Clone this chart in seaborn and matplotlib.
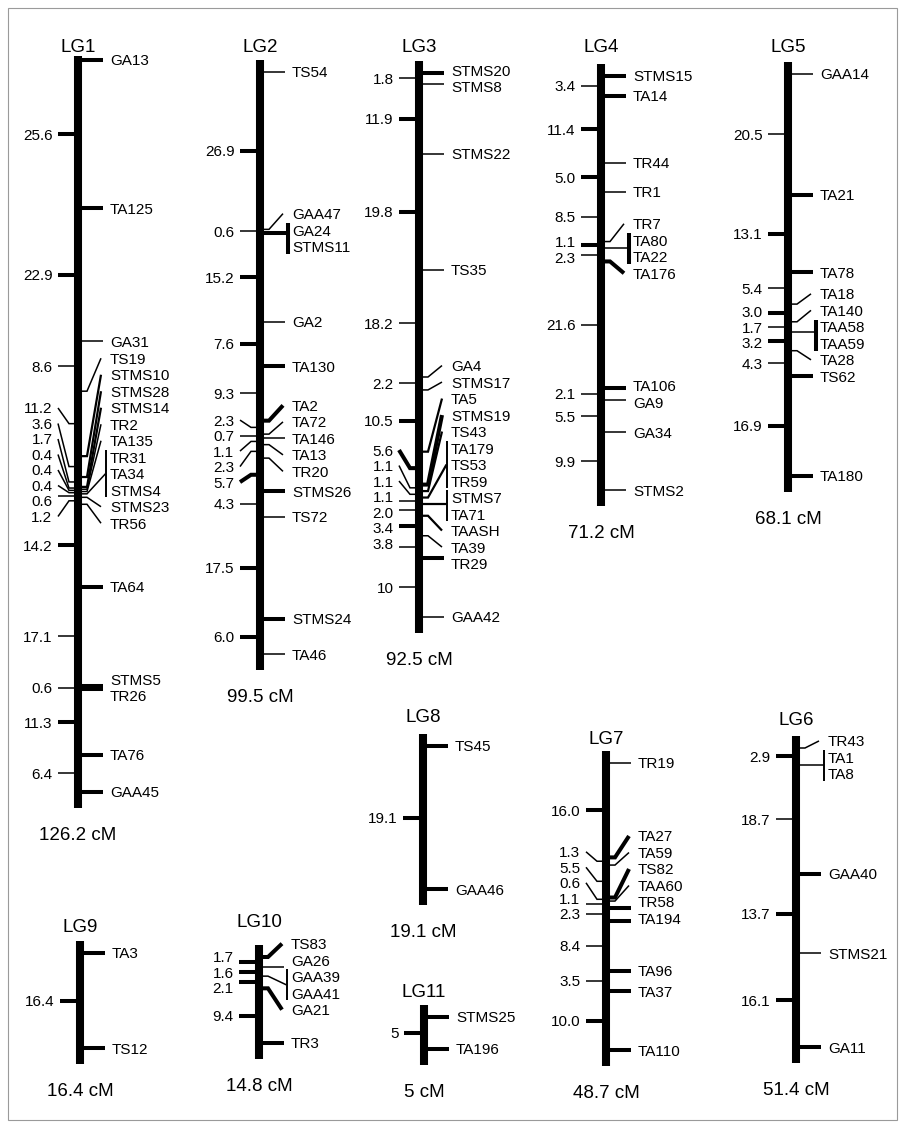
import matplotlib
matplotlib.use("Agg")
import seaborn as sns
import pandas as pd
import matplotlib.pyplot as plt
from matplotlib.patches import Rectangle

# linkage groups: loci in map order (co-segregating loci as a sub-list),
# interval distances (cM) between consecutive loci, and group totals
LG1_LOCI = ["GA13", "TA125", "GA31", "TS19", "STMS10", "STMS28", "STMS14", "TR2", "TA135",
            ["TR31", "TA34", "STMS4"], "STMS23", "TR56", "TA64", "STMS5", "TR26", "TA76", "GAA45"]
LG1_DIST = ["25.6", "22.9", "8.6", "11.2", "3.6", "1.7", "0.4", "0.4", "0.4", "0.6", "1.2",
            "14.2", "17.1", "0.6", "11.3", "6.4"]

LG2_LOCI = ["TS54", "GAA47", ["GA24", "STMS11"], "GA2", "TA130", "TA2", "TA72", "TA146", "TA13",
            "TR20", "STMS26", "TS72", "STMS24", "TA46"]
LG2_DIST = ["26.9", "0.6", "15.2", "7.6", "9.3", "2.3", "0.7", "1.1", "2.3", "5.7", "4.3", "17.5", "6.0"]

LG3_LOCI = ["STMS20", "STMS8", "STMS22", "TS35", "GA4", "STMS17", "TA5", "STMS19", "TS43",
            ["TA179", "TS53", "TR59"], ["STMS7", "TA71"], "TAASH", "TA39", "TR29", "GAA42"]
LG3_DIST = ["1.8", "11.9", "19.8", "18.2", "2.2", "10.5", "5.6", "1.1", "1.1", "1.1", "2.0", "3.4", "3.8", "10"]

LG4_LOCI = ["STMS15", "TA14", "TR44", "TR1", "TR7", ["TA80", "TA22"], "TA176", "TA106", "GA9", "GA34", "STMS2"]
LG4_DIST = ["3.4", "11.4", "5.0", "8.5", "1.1", "2.3", "21.6", "2.1", "5.5", "9.9"]

LG5_LOCI = ["GAA14", "TA21", "TA78", "TA18", "TA140", ["TAA58", "TAA59"], "TA28", "TS62", "TA180"]
LG5_DIST = ["20.5", "13.1", "5.4", "3.0", "1.7", "3.2", "4.3", "16.9"]

LG6_LOCI = ["TR43", ["TA1", "TA8"], "GAA40", "STMS21", "GA11"]
LG6_DIST = ["2.9", "18.7", "13.7", "16.1"]

LG7_LOCI = ["TR19", "TA27", "TA59", "TS82", "TAA60", "TR58", "TA194", "TA96", "TA37", "TA110"]
LG7_DIST = ["16.0", "1.3", "5.5", "0.6", "1.1", "2.3", "8.4", "3.5", "10.0"]

LG8_LOCI = ["TS45", "GAA46"]
LG8_DIST = ["19.1"]
LG9_LOCI = ["TA3", "TS12"]
LG9_DIST = ["16.4"]
LG10_LOCI = ["TS83", "GA26", ["GAA39", "GAA41"], "GA21", "TR3"]
LG10_DIST = ["1.7", "1.6", "2.1", "9.4"]
LG11_LOCI = ["STMS25", "TA196"]
LG11_DIST = ["5"]

LG_NAMES = ["LG1", "LG2", "LG3", "LG4", "LG5", "LG6", "LG7", "LG8", "LG9", "LG10", "LG11"]
LG_TOTALS = [126.2, 99.5, 92.5, 71.2, 68.1, 51.4, 48.7, 19.1, 16.4, 14.8, 5]

groups = {
    "LG1": (LG1_LOCI, LG1_DIST), "LG2": (LG2_LOCI, LG2_DIST), "LG3": (LG3_LOCI, LG3_DIST),
    "LG4": (LG4_LOCI, LG4_DIST), "LG5": (LG5_LOCI, LG5_DIST), "LG6": (LG6_LOCI, LG6_DIST),
    "LG7": (LG7_LOCI, LG7_DIST), "LG8": (LG8_LOCI, LG8_DIST), "LG9": (LG9_LOCI, LG9_DIST),
    "LG10": (LG10_LOCI, LG10_DIST), "LG11": (LG11_LOCI, LG11_DIST),
}

# styling: which ticks are drawn heavy
THICK_MARKERS = {"GA13", "TA125", "TA64", "STMS5", "TR26", "TA76", "GAA45",
                 "GA24", "TA130", "TA2", "STMS26", "STMS24",
                 "STMS20", "STMS19", "TR29",
                 "STMS15", "TA14", "TA176", "TA106",
                 "TA21", "TA78", "TS62", "TA180",
                 "GAA40", "GA11",
                 "TA27", "TS82", "TR58", "TA194", "TA96", "TA37", "TA110",
                 "TS45", "GAA46", "TA3", "TS12", "TS83", "GA21", "TR3", "STMS25", "TA196"}
MEDIUM_MARKERS = {"STMS10", "STMS28", "STMS14", "TA5", "TS43", "TA179", "STMS7", "TAASH"}
THICK_BRACKETS = {"GA24", "TA80", "TAA58"}
THICK_DIST = {"LG1": [0, 1, 11, 14], "LG2": [0, 2, 3, 9, 11, 12], "LG3": [1, 2, 5, 6, 11],
              "LG4": [1, 2, 4], "LG5": [1, 3, 5, 7], "LG6": [0, 2, 3], "LG7": [0, 8],
              "LG8": [0], "LG9": [0], "LG10": [0, 1, 2, 3], "LG11": [0]}

# page layout (pixels): bar centre x, y of first locus, px per cM, title y,
# plus label-cluster tweaks (shift of right / left clusters, merge slack)
LAYOUT = {
    "LG1": dict(x=78, y0=60, sc=5.8, ty=45, pad=4, bias=-7),
    "LG2": dict(x=260, y0=72, sc=5.85, ty=45, bias=-1),
    "LG3": dict(x=419, y0=73, sc=5.88, ty=45, bias=-3, slack=16, lbias=-11),
    "LG4": dict(x=601, y0=76, sc=5.85, ty=45, bias=-3),
    "LG5": dict(x=788, y0=74, sc=5.9, ty=45, bias=-5),
    "LG6": dict(x=796, y0=748, sc=5.82, ty=718, bias=1),
    "LG7": dict(x=606, y0=763, sc=5.9, ty=737, bias=-12, lbias=-5),
    "LG8": dict(x=423, y0=746, sc=7.5, ty=715),
    "LG9": dict(x=80, y0=953, sc=5.8, ty=925),
    "LG10": dict(x=259, y0=957, sc=5.8, ty=920, bias=4),
    "LG11": dict(x=424, y0=1017, sc=6.4, ty=990),
}

LABEL_H = 16.5
LEFT_H = 15.5
FS = 11
FS_BIG = 13.5
THICK = 2.9
MEDIUM = 1.6
THIN = 1.1
STRAIGHT_TOL = 7


def spread(want, size, h, bias=0.0, slack=0.0):
    # push overlapping labels apart, each cluster centred on its extreme positions;
    # larger clusters are shifted afterwards by `bias`
    n = len(want)
    clusters = [[i] for i in range(n)]

    def place(c):
        lo = min(want[i] for i in c)
        hi = max(want[i] for i in c)
        H = sum(size[i] for i in c) * h
        top = (lo + hi) / 2 - H / 2
        return top, top + H

    changed = True
    while changed:
        changed = False
        for k in range(len(clusters) - 1):
            a = place(clusters[k])
            b = place(clusters[k + 1])
            merge_gap = slack if (len(clusters[k]) > 1 and len(clusters[k + 1]) > 1) else 0
            if b[0] < a[1] + merge_gap - 0.01:
                clusters[k] = clusters[k] + clusters[k + 1]
                del clusters[k + 1]
                changed = True
                break
    pos = [0.0] * n
    for c in clusters:
        top, _ = place(c)
        if sum(size[i] for i in c) >= 3:
            top += bias
        for i in c:
            pos[i] = top + size[i] * h / 2
            top += size[i] * h
    return pos


def txt(ax, x, y, s, fs, ha):
    # y is the visual middle of capital letters
    ax.text(x, y + 0.358 * fs * 100 / 72, s, fontsize=fs, ha=ha, va="baseline", color="black")


def seg(ax, xs, ys, lw):
    ax.plot(xs, ys, color="black", lw=lw, solid_capstyle="butt", solid_joinstyle="miter")


sns.set_theme(style="white")
plt.rcParams["font.family"] = ["Liberation Sans", "DejaVu Sans"]

fig = plt.figure(figsize=(8.99, 11.29), dpi=100)
ax = fig.add_axes([0, 0, 1, 1])

ax.add_patch(Rectangle((8, 8), 889, 1112, fill=False, edgecolor="#9a9a9a", lw=0.8))

bar_rows = []
for name, total in zip(LG_NAMES, LG_TOTALS):
    loci, dist = groups[name]
    lay = LAYOUT[name]
    x, y0, sc = lay["x"], lay["y0"], lay["sc"]
    cum = [0.0]
    for d in dist:
        cum.append(cum[-1] + float(d))
    ys = [y0 + c * sc for c in cum]
    top, bottom = ys[0] - lay.get("pad", 12), ys[-1] + 16
    bar_rows.append({"lg": name, "x": x, "y": top})
    bar_rows.append({"lg": name, "x": x, "y": bottom})

    txt(ax, x, lay["ty"], name, FS_BIG, "center")
    txt(ax, x, bottom + 25, f"{total:g} cM", FS_BIG, "center")

    # right side: marker names
    edge = x + 4
    size = [len(l) if isinstance(l, list) else 1 for l in loci]
    lab = spread(ys, size, LABEL_H, bias=lay.get("bias", -2), slack=lay.get("slack", 0))
    for l, ym, yl, k in zip(loci, ys, lab, size):
        first = l[0] if isinstance(l, list) else l
        lw = THICK if first in THICK_MARKERS else (MEDIUM if first in MEDIUM_MARKERS else THIN)
        straight = abs(yl - ym) < STRAIGHT_TOL
        if k > 1:
            bx = edge + 23.5
            if straight:
                seg(ax, [edge, bx], [ym, ym], lw)
            else:
                seg(ax, [edge, edge + 5, bx], [ym, ym, yl], lw)
            blw = THICK if first in THICK_BRACKETS else 1.4
            seg(ax, [bx, bx], [yl - k * LABEL_H / 2 + 1, yl + k * LABEL_H / 2 - 1], blw)
            for j, s in enumerate(l):
                txt(ax, edge + 28, yl - k * LABEL_H / 2 + (j + 0.5) * LABEL_H, s, FS, "left")
        else:
            if straight:
                seg(ax, [edge, edge + 21], [ym, ym], lw)
            else:
                seg(ax, [edge, edge + 5, edge + 19], [ym, ym, yl], lw)
            txt(ax, edge + 28, yl, l, FS, "left")

    # left side: interval distances at interval midpoints
    edge = x - 4
    mids = [(a + b) / 2 for a, b in zip(ys[:-1], ys[1:])]
    lab = spread(mids, [1] * len(mids), LEFT_H, bias=lay.get("lbias", 0))
    for i, (d, ym, yl) in enumerate(zip(dist, mids, lab)):
        lw = THICK if i in THICK_DIST[name] else THIN
        if abs(yl - ym) < STRAIGHT_TOL:
            seg(ax, [edge, edge - 16], [ym, ym], lw)
        else:
            seg(ax, [edge, edge - 5, edge - 16], [ym, ym, yl], lw)
        txt(ax, edge - 21.5, yl, d, FS, "right")

bars = pd.DataFrame(bar_rows)
sns.lineplot(data=bars, x="x", y="y", units="lg", estimator=None, sort=False,
             color="black", lw=5.8, solid_capstyle="butt", legend=False, ax=ax)
ax.set_xlim(0, 899)
ax.set_ylim(1129, 0)
ax.axis("off")

fig.savefig("out.png", dpi=100, facecolor="white")
